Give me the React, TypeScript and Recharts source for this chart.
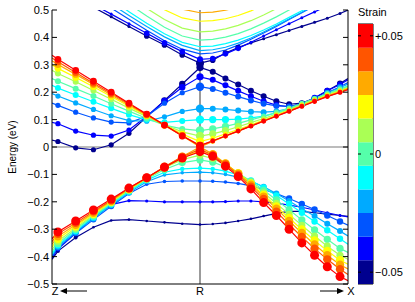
import { LineChart, Line, XAxis, YAxis, ReferenceLine, BarChart, Bar, ReferenceArea } from 'recharts';

// strain levels, dark blue (-0.05) up to red (+0.05)
const strains = [-0.05, -0.04, -0.03, -0.02, -0.01, 0, 0.01, 0.02, 0.03, 0.04, 0.05];
const strainColors = ['#00008f', '#0000ff', '#0055ff', '#00aaff', '#00ffff', '#55ffaa', '#aaff55', '#ffff00', '#ffaa00', '#ff5500', '#ff0000'];

// k path: Z (-1) -> R (0) -> X (1)
const kPoints = [-1, -0.96, -0.84, -0.72, -0.6, -0.48, -0.36, -0.24, -0.12, 0,
  0.086, 0.172, 0.258, 0.344, 0.43, 0.516, 0.602, 0.688, 0.774, 0.86, 0.946, 1];
const kTicks = [-1, 0, 1];
const kLabels = ['Z', 'R', 'X'];
const energyTicks = [-0.5, -0.4, -0.3, -0.2, -0.1, 0, 0.1, 0.2, 0.3, 0.4, 0.5];

// second conduction band, one row per strain
const cb2Energies = [
  [0.59, 0.58, 0.545, 0.51, 0.475, 0.44, 0.405, 0.372, 0.336, 0.306, 0.317, 0.343, 0.363, 0.38, 0.395, 0.41, 0.425, 0.44, 0.455, 0.47, 0.487, 0.5],
  [0.6, 0.59, 0.555, 0.52, 0.485, 0.45, 0.415, 0.38, 0.348, 0.32, 0.323, 0.34, 0.36, 0.382, 0.405, 0.428, 0.45, 0.472, 0.493, 0.515, 0.535, 0.545],
  [0.64, 0.63, 0.59, 0.55, 0.507, 0.466, 0.426, 0.388, 0.357, 0.34, 0.343, 0.354, 0.372, 0.393, 0.416, 0.44, 0.465, 0.49, 0.515, 0.54, 0.56, 0.57],
  [0.66, 0.645, 0.605, 0.565, 0.522, 0.48, 0.44, 0.402, 0.371, 0.352, 0.355, 0.364, 0.379, 0.398, 0.42, 0.443, 0.467, 0.492, 0.517, 0.54, 0.56, 0.57],
  [0.68, 0.665, 0.625, 0.582, 0.538, 0.494, 0.452, 0.413, 0.382, 0.366, 0.368, 0.377, 0.39, 0.407, 0.427, 0.449, 0.473, 0.497, 0.522, 0.545, 0.566, 0.575],
  [0.71, 0.695, 0.655, 0.612, 0.567, 0.522, 0.478, 0.437, 0.405, 0.39, 0.393, 0.401, 0.414, 0.431, 0.452, 0.475, 0.5, 0.525, 0.55, 0.572, 0.592, 0.6],
  [0.74, 0.725, 0.685, 0.642, 0.597, 0.551, 0.506, 0.465, 0.434, 0.42, 0.423, 0.431, 0.444, 0.461, 0.482, 0.505, 0.53, 0.555, 0.58, 0.602, 0.622, 0.63],
  [0.78, 0.765, 0.722, 0.677, 0.632, 0.586, 0.541, 0.501, 0.471, 0.459, 0.461, 0.468, 0.48, 0.497, 0.517, 0.54, 0.565, 0.59, 0.615, 0.637, 0.657, 0.665],
  [0.82, 0.8, 0.757, 0.712, 0.665, 0.618, 0.573, 0.532, 0.503, 0.49, 0.492, 0.499, 0.511, 0.528, 0.548, 0.57, 0.595, 0.62, 0.645, 0.667, 0.687, 0.695],
  [0.86, 0.84, 0.795, 0.748, 0.7, 0.652, 0.606, 0.565, 0.537, 0.525, 0.527, 0.534, 0.546, 0.563, 0.583, 0.605, 0.63, 0.655, 0.68, 0.702, 0.722, 0.73],
  [0.9, 0.88, 0.833, 0.785, 0.736, 0.687, 0.64, 0.598, 0.569, 0.556, 0.558, 0.565, 0.577, 0.594, 0.614, 0.636, 0.661, 0.686, 0.71, 0.732, 0.752, 0.76],
];

// lowest conduction band
const cb1Energies = [
  [0.025, 0.02, -0.003, -0.01, 0.008, 0.05, 0.11, 0.17, 0.23, 0.29, 0.275, 0.25, 0.228, 0.205, 0.185, 0.167, 0.156, 0.16, 0.178, 0.205, 0.232, 0.25],
  [0.09, 0.085, 0.058, 0.043, 0.04, 0.062, 0.112, 0.168, 0.218, 0.256, 0.245, 0.225, 0.205, 0.185, 0.167, 0.153, 0.147, 0.158, 0.18, 0.205, 0.228, 0.245],
  [0.16, 0.152, 0.127, 0.106, 0.091, 0.088, 0.112, 0.16, 0.198, 0.22, 0.212, 0.198, 0.184, 0.17, 0.158, 0.15, 0.148, 0.157, 0.175, 0.198, 0.22, 0.235],
  [0.195, 0.186, 0.161, 0.137, 0.114, 0.096, 0.094, 0.11, 0.13, 0.14, 0.14, 0.137, 0.133, 0.129, 0.127, 0.13, 0.14, 0.156, 0.176, 0.197, 0.216, 0.23],
  [0.225, 0.215, 0.19, 0.165, 0.141, 0.118, 0.099, 0.09, 0.095, 0.1, 0.1, 0.1, 0.102, 0.106, 0.113, 0.124, 0.138, 0.155, 0.173, 0.192, 0.21, 0.222],
  [0.25, 0.24, 0.213, 0.186, 0.158, 0.131, 0.104, 0.08, 0.066, 0.06, 0.066, 0.075, 0.086, 0.099, 0.112, 0.127, 0.142, 0.159, 0.177, 0.195, 0.212, 0.222],
  [0.28, 0.268, 0.238, 0.206, 0.174, 0.142, 0.111, 0.081, 0.055, 0.04, 0.048, 0.06, 0.074, 0.089, 0.104, 0.12, 0.137, 0.155, 0.173, 0.191, 0.207, 0.218],
  [0.3, 0.287, 0.254, 0.22, 0.184, 0.149, 0.114, 0.08, 0.047, 0.02, 0.032, 0.048, 0.064, 0.081, 0.098, 0.116, 0.134, 0.152, 0.17, 0.188, 0.204, 0.215],
  [0.315, 0.301, 0.265, 0.228, 0.19, 0.153, 0.116, 0.079, 0.041, 0.0, 0.02, 0.039, 0.058, 0.077, 0.096, 0.114, 0.132, 0.15, 0.168, 0.186, 0.202, 0.213],
  [0.325, 0.311, 0.272, 0.233, 0.195, 0.157, 0.119, 0.08, 0.042, 0.005, 0.023, 0.041, 0.059, 0.077, 0.095, 0.113, 0.131, 0.149, 0.167, 0.185, 0.2, 0.211],
  [0.335, 0.32, 0.28, 0.24, 0.2, 0.16, 0.12, 0.08, 0.04, 0.005, 0.022, 0.04, 0.058, 0.076, 0.094, 0.112, 0.13, 0.148, 0.166, 0.184, 0.199, 0.209],
];

// top valence band
const vb1Energies = [
  [-0.41, -0.38, -0.33, -0.293, -0.268, -0.265, -0.27, -0.275, -0.28, -0.283, -0.281, -0.277, -0.27, -0.262, -0.252, -0.242, -0.235, -0.235, -0.24, -0.245, -0.25, -0.253],
  [-0.405, -0.372, -0.315, -0.255, -0.21, -0.196, -0.197, -0.2, -0.2, -0.2, -0.2, -0.199, -0.197, -0.197, -0.2, -0.205, -0.212, -0.22, -0.23, -0.24, -0.25, -0.255],
  [-0.4, -0.368, -0.315, -0.265, -0.216, -0.17, -0.136, -0.126, -0.124, -0.124, -0.125, -0.128, -0.133, -0.142, -0.155, -0.17, -0.188, -0.208, -0.228, -0.25, -0.272, -0.285],
  [-0.395, -0.363, -0.31, -0.26, -0.212, -0.166, -0.127, -0.102, -0.094, -0.092, -0.094, -0.1, -0.11, -0.125, -0.145, -0.17, -0.197, -0.225, -0.252, -0.28, -0.307, -0.325],
  [-0.39, -0.358, -0.306, -0.256, -0.208, -0.162, -0.121, -0.092, -0.08, -0.077, -0.08, -0.088, -0.102, -0.122, -0.148, -0.177, -0.208, -0.24, -0.272, -0.304, -0.335, -0.355],
  [-0.383, -0.352, -0.301, -0.252, -0.205, -0.159, -0.117, -0.082, -0.057, -0.047, -0.055, -0.072, -0.096, -0.125, -0.158, -0.193, -0.229, -0.266, -0.302, -0.337, -0.37, -0.385],
  [-0.375, -0.344, -0.296, -0.248, -0.202, -0.156, -0.114, -0.076, -0.046, -0.03, -0.042, -0.065, -0.095, -0.129, -0.167, -0.206, -0.246, -0.286, -0.325, -0.362, -0.395, -0.41],
  [-0.365, -0.335, -0.289, -0.244, -0.2, -0.154, -0.114, -0.075, -0.04, -0.012, -0.03, -0.061, -0.096, -0.134, -0.175, -0.217, -0.259, -0.301, -0.341, -0.379, -0.413, -0.428],
  [-0.355, -0.326, -0.284, -0.24, -0.197, -0.152, -0.113, -0.073, -0.035, 0, -0.026, -0.06, -0.097, -0.138, -0.181, -0.225, -0.27, -0.314, -0.356, -0.395, -0.43, -0.445],
  [-0.345, -0.317, -0.277, -0.235, -0.194, -0.15, -0.112, -0.072, -0.036, -0.008, -0.03, -0.064, -0.102, -0.145, -0.19, -0.236, -0.283, -0.328, -0.371, -0.41, -0.446, -0.465],
  [-0.335, -0.31, -0.27, -0.23, -0.19, -0.15, -0.112, -0.074, -0.04, -0.017, -0.034, -0.07, -0.108, -0.153, -0.203, -0.25, -0.3, -0.35, -0.395, -0.437, -0.473, -0.488],
];

const bands = [
  { key: 'cb2', rows: cb2Energies },
  { key: 'cb1', rows: cb1Energies },
  { key: 'vb1', rows: vb1Energies },
];

const table = kPoints.map((k, j) => {
  const row: Record<string, number> = { k };
  bands.forEach((b) => b.rows.forEach((vals, i) => { row[`${b.key}${i}`] = vals[j]; }));
  return row;
});

const FONT = '"Liberation Sans", Arial, sans-serif';
const R_INDEX = 9;

// marker size (orbital weight look) per band / strain / k index
function markerRadius(band: string, i: number, j: number): number {
  if (j === 0 || j === kPoints.length - 1) return 0;
  const left = j < R_INDEX;
  if (band === 'cb2') {
    if (i > 1) return 0;
    if (j === R_INDEX) return i === 0 ? 4 : 3;
    if (Math.abs(j - R_INDEX) <= 3) return 2.8;
    return 1.5;
  }
  if (band === 'cb1') {
    if (j === R_INDEX) return i >= 7 ? 4 : i >= 2 ? 4.2 : 3.6;
    if (left) {
      if (i >= 7) return 3.4;
      if (i >= 4) return 3;
      if (i <= 1 && j >= 7) return 3.2;
      return 2.6;
    }
    if (i >= 7) return 2.4;
    if (i >= 4) return j <= 12 ? 3.6 : 2.6;
    return 3;
  }
  // vb1
  if (i >= 7) return i === 10 ? 4.5 : 4.2;
  if (i >= 5) return 3.6;
  if (i === 4) return j <= 6 ? 3.4 : j <= 12 ? 2.2 : 3.2;
  if (i === 3) return j <= 5 ? 3.2 : j <= 13 ? 1.8 : 3;
  if (i === 2) return j <= 4 ? 3 : j <= 15 ? 1.8 : 3.2;
  if (i === 1) return j <= 3 ? 2.5 : 1.6;
  return j <= 2 ? 2 : 1.3;
}

const fmt = (v: number) => (v === 0 ? '0' : v.toFixed(1).replace('-', '\u2212'));

function LeftTick(props: any) {
  const { x, y, payload } = props;
  return (
    <g>
      <line x1={x} x2={x + 5} y1={y} y2={y} stroke="#000" />
      <text x={x - 3} y={y} dy={4} textAnchor="end" fontSize={11} fontFamily={FONT} fill="#000">
        {fmt(payload.value)}
      </text>
    </g>
  );
}

function RightTick(props: any) {
  const { x, y } = props;
  return <line x1={x - 5} x2={x} y1={y} y2={y} stroke="#000" />;
}

function KTick(props: any) {
  const { x, y, payload } = props;
  const label = kLabels[kTicks.indexOf(payload.value)];
  const ty = y + 11;
  if (payload.value === kTicks[0]) {
    return (
      <g>
        <text x={x + 3} y={ty} textAnchor="middle" fontSize={11} fontFamily={FONT}>{label}</text>
        <line x1={x + 12} x2={x + 35} y1={ty - 4} y2={ty - 4} stroke="#000" />
        <path d={`M${x + 8},${ty - 4} L${x + 15},${ty - 7} L${x + 15},${ty - 1} Z`} fill="#000" />
      </g>
    );
  }
  if (payload.value === kTicks[2]) {
    return (
      <g>
        <line x1={x - 28} x2={x - 8} y1={ty - 4} y2={ty - 4} stroke="#000" />
        <path d={`M${x - 4},${ty - 4} L${x - 11},${ty - 7} L${x - 11},${ty - 1} Z`} fill="#000" />
        <text x={x + 3} y={ty} textAnchor="middle" fontSize={11} fontFamily={FONT}>{label}</text>
      </g>
    );
  }
  return <text x={x} y={ty} textAnchor="middle" fontSize={11} fontFamily={FONT}>{label}</text>;
}

function renderDot(p: any, band: string, i: number, color: string) {
  const { cx, cy, index } = p;
  const r = markerRadius(band, i, index);
  if (!r || cx == null || cy == null) return <g key={`${band}${i}-${index}`} />;
  return <circle key={`${band}${i}-${index}`} cx={cx} cy={cy} r={r} fill={color} stroke="none" />;
}

// colour bar: one stacked column, one segment per strain level
const barRow = [strains.reduce((acc: Record<string, number | string>, _s, i) => { acc[`s${i}`] = 1; return acc; }, { name: 'strain' })];
const barTickIdx = [0, 5, 10];

function BarTick(props: any) {
  const { x, y, payload } = props;
  const s = strains[Math.round(payload.value - 0.5)];
  const label = s === 0 ? '0' : (s > 0 ? '+' : '\u2212') + Math.abs(s).toFixed(2);
  return (
    <g>
      <line x1={x - 3} x2={x} y1={y} y2={y} stroke="#000" />
      <line x1={x - 15} x2={x - 12} y1={y} y2={y} stroke="#000" />
      <text x={x + 2} y={y} dy={4} fontSize={11} fontFamily={FONT} fill="#000">{label}</text>
    </g>
  );
}

export default function App() {
  return (
    <div style={{ position: 'absolute', left: 0, top: 0, width: 415, height: 302, background: '#fff', fontFamily: FONT }}>
      <div style={{ position: 'absolute', left: 0, top: 0 }}>
        <LineChart width={415} height={302} data={table} margin={{ top: 10, right: 66, bottom: 0, left: 0 }}>
          <XAxis dataKey="k" type="number" domain={[-1, 1]} ticks={kTicks} allowDataOverflow
            height={18} tickSize={0} tickMargin={0} tickLine={false} tick={<KTick />} stroke="#000" />
          <XAxis xAxisId="top" orientation="top" dataKey="k" type="number" domain={[-1, 1]} height={0} tick={false} tickLine={false} stroke="#000" />
          <YAxis type="number" domain={[-0.5, 0.5]} ticks={energyTicks} allowDataOverflow width={52}
            tickSize={0} tickMargin={0} tickLine={false} tick={<LeftTick />} stroke="#000"
            label={{ value: 'Energy (eV)', angle: -90, position: 'insideLeft', offset: 12, style: { textAnchor: 'middle', fontSize: 10, fontFamily: FONT, fill: '#000' } }} />
          <YAxis yAxisId="r" orientation="right" type="number" domain={[-0.5, 0.5]} ticks={energyTicks} allowDataOverflow width={1}
            tickSize={0} tickMargin={0} tickLine={false} tick={<RightTick />} stroke="#000" />
          <ReferenceLine y={0} stroke="#a6a6a6" strokeWidth={1.5} />
          <ReferenceLine x={0} stroke="#7a7a7a" strokeWidth={1.5} />
          {strains.map((_, i) =>
            bands.map((b) => (
              <Line key={`${b.key}${i}`} dataKey={`${b.key}${i}`} stroke={strainColors[i]} strokeWidth={1.2}
                dot={(p: any) => renderDot(p, b.key, i, strainColors[i])} activeDot={false} isAnimationActive={false} />
            ))
          )}
        </LineChart>
      </div>
      <div style={{ position: 'absolute', left: 358, top: 6, fontSize: 11 }}>Strain</div>
      <div style={{ position: 'absolute', left: 358, top: 0 }}>
        <BarChart width={57} height={302} data={barRow} margin={{ top: 24, right: 0, bottom: 18, left: 0 }} barCategoryGap={0}>
          <XAxis dataKey="name" hide />
          <YAxis orientation="right" type="number" domain={[0, strains.length]} allowDataOverflow width={42}
            ticks={barTickIdx.map((i) => i + 0.5)} tickSize={0} tickMargin={0} tickLine={false} axisLine={false} tick={<BarTick />} />
          {strains.map((_, i) => (
            <Bar key={`s${i}`} dataKey={`s${i}`} stackId="a" fill={strainColors[i]} isAnimationActive={false} />
          ))}
          <ReferenceArea y1={0} y2={strains.length} fill="none" stroke="#000" strokeWidth={1} />
        </BarChart>
      </div>
    </div>
  );
}
